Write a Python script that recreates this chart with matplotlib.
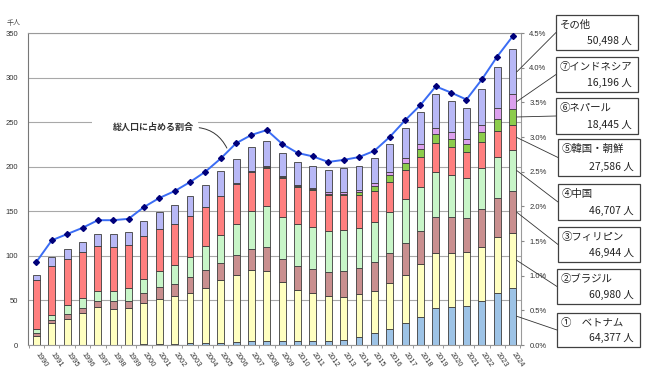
import numpy as np
import matplotlib
matplotlib.use("Agg")
import matplotlib.pyplot as plt
from matplotlib.patches import Rectangle

plt.rcParams['font.family'] = ['Liberation Sans', 'Noto Sans CJK JP', 'DejaVu Sans']

years = ['1990', '1991'] + [str(y) for y in range(1995, 2025)]

# 千人
vietnam = [0.3, 0.3, 0.3, 0.3, 0.3, 0.3, 0.3, 0.8, 1.2, 1.5, 1.8, 2.2, 2.7, 3.3, 4.0, 5.0,
           4.5, 4.0, 5.0, 5.0, 6.0, 9.4, 13.1, 17.6, 24.3, 31.8, 41.2, 43.0, 43.8, 49.4, 58.0, 64.4]
brazil = [10.2, 24.0, 28.5, 35.7, 42.4, 40.5, 41.3, 46.4, 50.5, 53.2, 56.7, 61.9, 69.7, 75.1, 79.6, 77.9,
          66.0, 57.9, 53.5, 49.7, 48.4, 47.5, 47.9, 51.6, 54.3, 58.7, 62.4, 60.6, 60.2, 61.0, 62.8, 61.0]
philippines = [2.5, 3.7, 6.0, 5.6, 6.3, 8.2, 7.8, 11.3, 13.2, 13.9, 17.5, 20.3, 19.8, 22.5, 24.4, 27.0,
               26.2, 26.2, 26.3, 27.0, 28.5, 29.1, 31.8, 33.7, 36.3, 37.8, 39.7, 39.7, 38.2, 41.9, 43.8, 46.9]
china = [5.0, 5.7, 9.8, 11.2, 11.3, 11.3, 14.3, 15.7, 18.0, 21.4, 22.6, 26.2, 31.2, 35.2, 42.0, 45.7,
         46.9, 47.3, 47.6, 46.2, 45.7, 45.7, 44.9, 46.0, 48.6, 49.4, 50.9, 47.1, 44.8, 46.0, 46.8, 46.7]
korea = [55.4, 55.3, 52.4, 51.2, 50.7, 49.7, 48.7, 48.0, 47.6, 45.7, 45.8, 44.4, 44.2, 44.3, 43.9, 43.1,
         43.9, 42.0, 41.2, 40.1, 39.4, 36.7, 35.1, 34.0, 32.5, 32.9, 32.1, 31.4, 30.0, 29.9, 28.5, 27.6]
nepal = [0, 0, 0, 0, 0, 0, 0, 0, 0, 0, 0, 0, 0, 0.3, 0.4, 0.5,
         0.6, 0.7, 0.9, 1.5, 1.8, 3.2, 5.6, 7.5, 8.3, 9.0, 10.5, 9.8, 8.2, 11.2, 14.0, 18.4]
indonesia = [0, 0, 0, 0, 0, 0, 0, 0, 0, 0, 0, 0, 0, 1.0, 1.2, 1.5,
             1.5, 1.4, 1.4, 1.8, 1.9, 2.4, 3.0, 3.4, 5.2, 6.0, 7.1, 7.1, 5.6, 7.5, 11.7, 16.2]
other = [5.3, 9.2, 10.5, 11.7, 13.0, 14.7, 14.9, 16.8, 18.5, 21.8, 22.8, 25.0, 27.8, 27.5, 26.5, 27.7,
         25.6, 25.5, 25.4, 25.2, 26.3, 27.3, 28.1, 31.4, 34.0, 35.5, 37.4, 35.2, 34.8, 40.1, 45.7, 50.5]

# 総人口に占める割合 (%)
share = [1.20, 1.51, 1.60, 1.69, 1.80, 1.80, 1.82, 1.99, 2.12, 2.22, 2.35, 2.50, 2.69, 2.91, 3.03, 3.10,
         2.90, 2.77, 2.72, 2.64, 2.67, 2.71, 2.80, 3.00, 3.24, 3.46, 3.73, 3.64, 3.54, 3.83, 4.16, 4.45]

series = [vietnam, brazil, philippines, china, korea, nepal, indonesia, other]
colors = ['#9dc3e6', '#ffffc0', '#c98f8f', '#c8f5c8', '#ff7f7f', '#8ccc4c', '#dca0ee', '#b8b8f6']

labels = ['その他', '⑦インドネシア', '⑥ネパール', '⑤韓国・朝鮮', '④中国', '③フィリピン', '②ブラジル', '①　ベトナム']
counts = ['50,498', '16,196', '18,445', '27,586', '46,707', '46,944', '60,980', '64,377']

W, H = 650, 377
fig = plt.figure(figsize=(W / 100, H / 100), dpi=100)
ax = fig.add_axes([28 / W, 1 - 345 / H, (521 - 28) / W, (345 - 33) / H])

x = np.arange(len(years))
bottom = np.zeros(len(years))
mids = []
for vals, c in zip(series, colors):
    vals = np.array(vals)
    ax.bar(x, vals, width=0.45, bottom=bottom, color=c, edgecolor='#3c3c3c', linewidth=0.6, zorder=2)
    mids.append(bottom[-1] + vals[-1] / 2)
    bottom = bottom + vals

ax.set_xlim(-0.55, len(years) - 0.45)
ax.set_ylim(0, 350)
ax.set_yticks(range(0, 351, 50))
ax.yaxis.grid(True, color='#a8a8a8', linewidth=0.8)
ax.set_axisbelow(True)
ax.tick_params(axis='y', length=0, labelsize=5.5, pad=7, labelcolor='#333333')
ax.set_xticks(x)
ax.set_xticklabels(years, rotation=-55, ha='left', va='center', rotation_mode='anchor', fontsize=5.3,
                   color='#333333')
ax.set_xticks(np.arange(-0.5, len(years), 1), minor=True)
ax.tick_params(axis='x', which='major', length=0, pad=6)
ax.tick_params(axis='x', which='minor', length=2, color='#888888')
for s in ax.spines.values():
    s.set_color('#9a9a9a')
    s.set_linewidth(0.8)
ax.spines['left'].set_color('#777777')

ax2 = ax.twinx()
ax2.set_ylim(0, 4.5)
ax2.set_yticks(np.arange(0, 4.51, 0.5))
ax2.set_yticklabels([f'{v:.1f}%' for v in np.arange(0, 4.51, 0.5)])
ax2.tick_params(axis='y', length=2, labelsize=5.5, pad=4, color='#888888', labelcolor='#333333')
for s in ax2.spines.values():
    s.set_visible(False)
ax2.plot(x, share, color='#3a6cf4', linewidth=1.4, marker='D', markersize=3,
         markerfacecolor='#00007a', markeredgecolor='#00007a', zorder=5)

# 注記
ax.add_patch(Rectangle((3.64, 241), 6.9, 16, facecolor='white', edgecolor='none', zorder=1))
ax2.annotate('総人口に占める割合', xy=(12.4, 2.84), xytext=(7.6, 3.14), ha='center', va='center',
             fontsize=6.5, fontweight='bold', color='#333333', family=['Noto Sans CJK JP'],
             arrowprops=dict(arrowstyle='-', color='#333333', lw=0.7, relpos=(1, 0.5),
                             connectionstyle='arc3,rad=-0.3', shrinkA=2, shrinkB=0))

fig.text(14 / W, 1 - 23 / H, '千人', fontsize=5, ha='center', va='center', color='#444444',
         family=['Noto Sans CJK JP'])

# 右側の凡例ボックス
boxes = [(556, 15, 638, 50), (556, 57, 638, 92), (556, 98, 638, 134), (558, 139, 640, 176),
         (558, 184, 640, 220), (558, 227, 640, 262), (557, 269, 640, 304), (557, 313, 640, 347)]
mids = mids[::-1]
for (x0, y0, x1, y1), name, cnt, m in zip(boxes, labels, counts, mids):
    fig.add_artist(Rectangle((x0 / W, 1 - y1 / H), (x1 - x0) / W, (y1 - y0) / H,
                             transform=fig.transFigure, facecolor='white', edgecolor='#404040',
                             linewidth=0.9))
    fig.text((x0 + 4) / W, 1 - (y0 + 10) / H, name, fontsize=7.5, ha='left', va='center',
             color='#222222', family=['Noto Sans CJK JP'])
    fig.text((x1 - 6) / W, 1 - (y1 - 9) / H, cnt + ' 人', fontsize=7.5, ha='right', va='center',
             color='#222222', family=['Noto Sans CJK JP'])
    ax.annotate('', xy=(len(years) - 0.72, m), xycoords='data',
                xytext=(x0, H - (y0 + y1) / 2), textcoords='figure pixels',
                arrowprops=dict(arrowstyle='-', color='#333333', lw=0.6, shrinkA=0, shrinkB=0),
                annotation_clip=False)

fig.savefig('out.png', dpi=100)
